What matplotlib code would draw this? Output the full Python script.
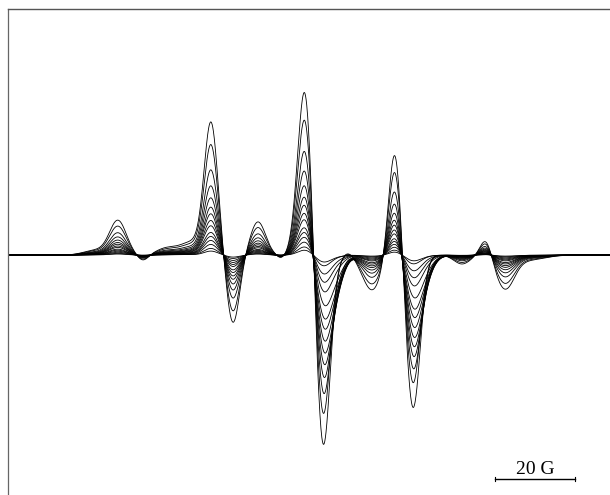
import numpy as np
import matplotlib
matplotlib.use('Agg')
import matplotlib.pyplot as plt

# line components of the biggest spectrum (field in G, intensity rel. to biggest peak)
centers = [22.0, 27.5, 33.75, 39.5, 46.0, 50.75, 56.25, 62.5, 68.25, 74.25, 78.75,
           85.25, 91.0, 96.75, 101.25, 113.5, 119.5, 124.25, 130.0]
amps = [0.03, 0.21, -0.035, 0.04, 0.08, 0.80, -0.42, 0.205, -0.02, 1.05, -1.21,
        0.02, -0.215, 0.665, -0.95, -0.055, 0.105, -0.2, -0.03]
widths = [3.0, 2.1, 1.3, 2.5, 3.0, 1.7, 1.6, 1.9, 1.0, 1.8, 1.8,
          1.2, 2.4, 1.55, 1.8, 2.0, 1.4, 2.3, 4.0]

# broader high-field shoulders of the negative lobes
broad_centers = [81.0, 103.0]
broad_amps = [-1.1, -0.9]
broad_widths = [2.4, 2.4]

# weight of each trace
pos_scale = [1.0, 0.83, 0.64, 0.52, 0.43, 0.36, 0.31, 0.26, 0.22, 0.17, 0.14, 0.11, 0.08, 0.05, 0.03]
broad_scale = [0.0, 0.01, 0.14, 0.19, 0.22, 0.23, 0.21, 0.19, 0.17, 0.14, 0.08, 0.05, 0.03, 0.01, 0.01]

field = np.linspace(0, 150.5, 2000)

def lines(c, a, w):
    y = np.zeros_like(field)
    for ci, ai, wi in zip(c, a, w):
        y += ai * np.exp(-(field - ci)**2 / (2 * wi**2))
    return y

narrow = lines(centers, amps, widths)
broad = lines(broad_centers, broad_amps, broad_widths)

fig = plt.figure(figsize=(6.1, 4.95), dpi=100)
ax = fig.add_axes([8/610, 0, 602/610, 486/495])

for s, b in zip(pos_scale, broad_scale):
    ax.plot(field, s*narrow + b*broad, color='black', lw=0.6)

ax.set_xlim(0, 150.5)
ax.set_ylim(-1.481, 1.519)

# 20 G scale bar
ax.plot([121.75, 141.75], [-1.383, -1.383], color='black', lw=1.0)
ax.plot([121.75, 121.75], [-1.395, -1.371], color='black', lw=0.8)
ax.plot([141.75, 141.75], [-1.395, -1.371], color='black', lw=0.8)
ax.text(131.75, -1.375, '20 G', ha='center', va='bottom', fontsize=14, family='Liberation Serif')

ax.set_xticks([])
ax.set_yticks([])
ax.spines['right'].set_visible(False)
ax.spines['bottom'].set_visible(False)
ax.spines['left'].set_color('#666666')
ax.spines['top'].set_color('#555555')
ax.spines['left'].set_linewidth(0.9)
ax.spines['top'].set_linewidth(1.0)

plt.savefig('out.png', dpi=100)
